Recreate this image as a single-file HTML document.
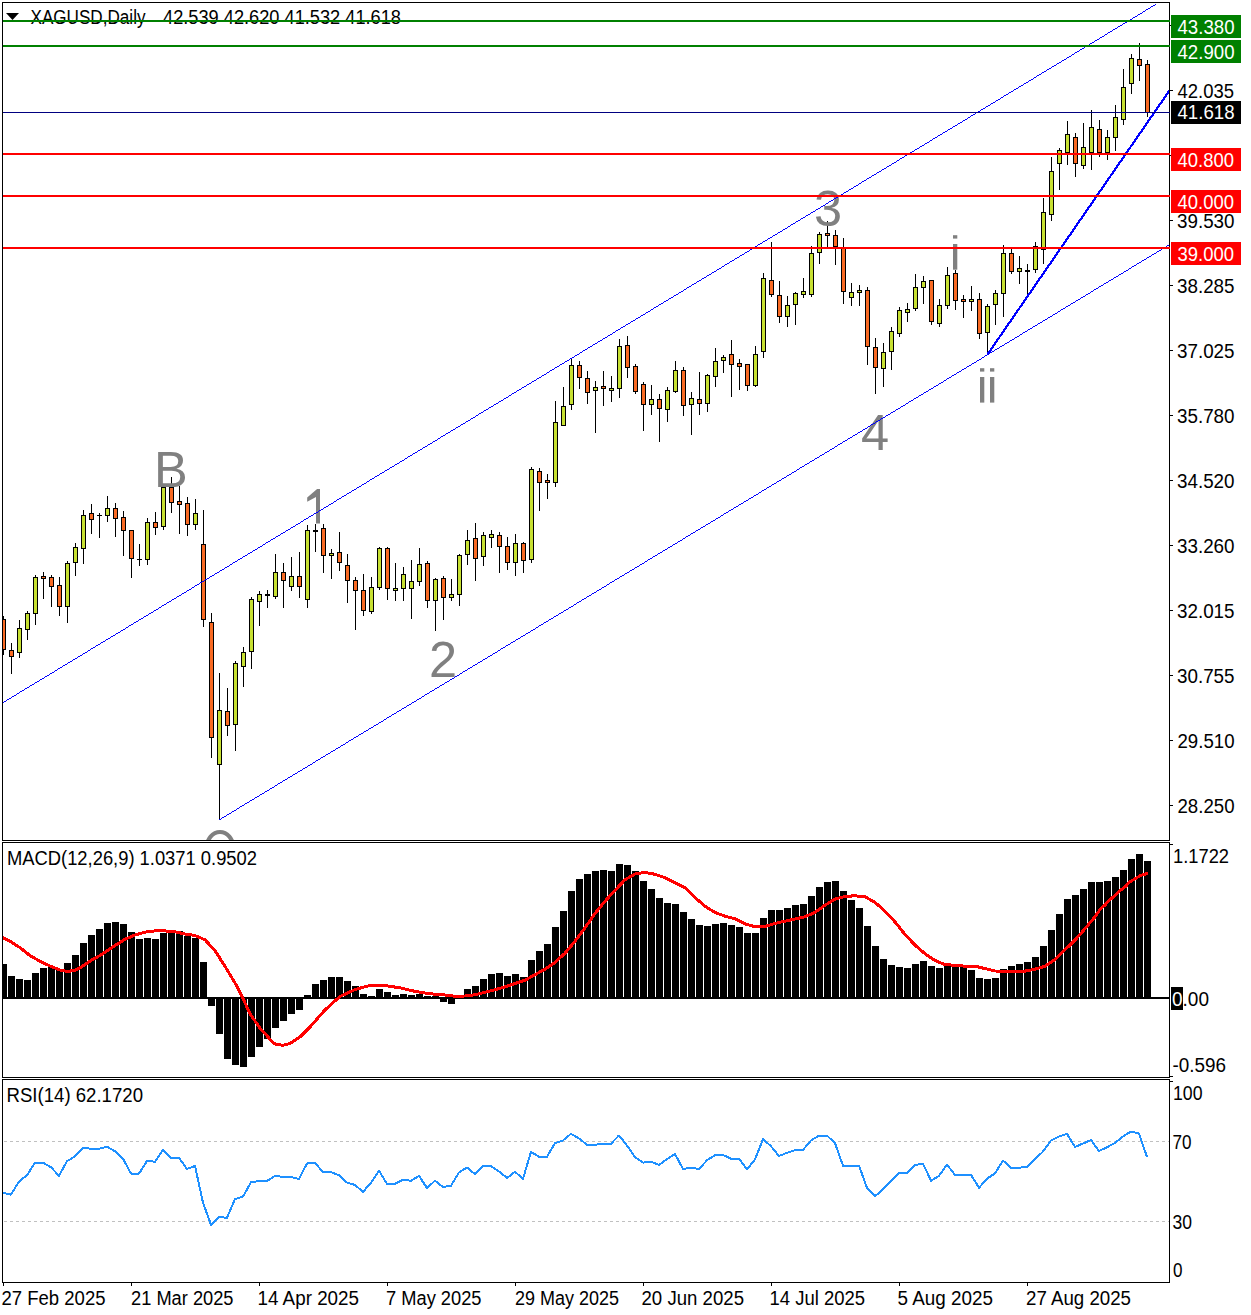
<!DOCTYPE html>
<html><head><meta charset="utf-8"><title>XAGUSD Daily</title>
<style>
html,body{margin:0;padding:0;background:#fff;}
body{width:1251px;height:1315px;overflow:hidden;}
svg{display:block;}
text{font-family:'Liberation Sans', sans-serif;}
</style></head><body>
<svg width="1251" height="1315" viewBox="0 0 1251 1315">
<defs>
<clipPath id="cm"><rect x="3" y="3" width="1166" height="837"/></clipPath>
<clipPath id="cd"><rect x="3" y="843" width="1166" height="234"/></clipPath>
<clipPath id="cr"><rect x="3" y="1080" width="1166" height="202"/></clipPath>
</defs>
<rect x="0" y="0" width="1251" height="1315" fill="#fff"/>

<g clip-path="url(#cm)">
<g fill="#000" shape-rendering="crispEdges"><rect x="3" y="616" width="1" height="39"/><rect x="1" y="619" width="5" height="31"/><rect x="2" y="620" width="3" height="29" fill="#F96A23"/><rect x="11" y="643" width="1" height="31"/><rect x="9" y="650" width="5" height="7"/><rect x="10" y="651" width="3" height="5" fill="#F96A23"/><rect x="19" y="620" width="1" height="38"/><rect x="17" y="628" width="5" height="25"/><rect x="18" y="629" width="3" height="23" fill="#C7E032"/><rect x="27" y="611" width="1" height="29"/><rect x="25" y="613" width="5" height="17"/><rect x="26" y="614" width="3" height="15" fill="#C7E032"/><rect x="35" y="575" width="1" height="50"/><rect x="33" y="577" width="5" height="37"/><rect x="34" y="578" width="3" height="35" fill="#C7E032"/><rect x="43" y="572" width="1" height="27"/><rect x="41" y="576" width="5" height="3"/><rect x="42" y="577" width="3" height="1" fill="#F96A23"/><rect x="51" y="575" width="1" height="32"/><rect x="49" y="577" width="5" height="10"/><rect x="50" y="578" width="3" height="8" fill="#F96A23"/><rect x="59" y="577" width="1" height="39"/><rect x="57" y="585" width="5" height="22"/><rect x="58" y="586" width="3" height="20" fill="#F96A23"/><rect x="67" y="561" width="1" height="62"/><rect x="65" y="563" width="5" height="44"/><rect x="66" y="564" width="3" height="42" fill="#C7E032"/><rect x="75" y="543" width="1" height="33"/><rect x="73" y="547" width="5" height="16"/><rect x="74" y="548" width="3" height="14" fill="#C7E032"/><rect x="83" y="510" width="1" height="54"/><rect x="81" y="515" width="5" height="34"/><rect x="82" y="516" width="3" height="32" fill="#C7E032"/><rect x="91" y="504" width="1" height="30"/><rect x="89" y="513" width="5" height="7"/><rect x="90" y="514" width="3" height="5" fill="#F96A23"/><rect x="99" y="513" width="1" height="25"/><rect x="97" y="515" width="5" height="1"/><rect x="107" y="496" width="1" height="26"/><rect x="105" y="508" width="5" height="8"/><rect x="106" y="509" width="3" height="6" fill="#C7E032"/><rect x="115" y="503" width="1" height="34"/><rect x="113" y="508" width="5" height="11"/><rect x="114" y="509" width="3" height="9" fill="#F96A23"/><rect x="123" y="511" width="1" height="45"/><rect x="121" y="517" width="5" height="14"/><rect x="122" y="518" width="3" height="12" fill="#F96A23"/><rect x="131" y="530" width="1" height="48"/><rect x="129" y="530" width="5" height="29"/><rect x="130" y="531" width="3" height="27" fill="#F96A23"/><rect x="139" y="544" width="1" height="22"/><rect x="137" y="559" width="5" height="1"/><rect x="147" y="518" width="1" height="47"/><rect x="145" y="522" width="5" height="38"/><rect x="146" y="523" width="3" height="36" fill="#C7E032"/><rect x="155" y="512" width="1" height="23"/><rect x="153" y="522" width="5" height="6"/><rect x="154" y="523" width="3" height="4" fill="#F96A23"/><rect x="163" y="485" width="1" height="45"/><rect x="161" y="487" width="5" height="40"/><rect x="162" y="488" width="3" height="38" fill="#C7E032"/><rect x="171" y="477" width="1" height="36"/><rect x="169" y="487" width="5" height="16"/><rect x="170" y="488" width="3" height="14" fill="#F96A23"/><rect x="179" y="486" width="1" height="48"/><rect x="177" y="501" width="5" height="4"/><rect x="178" y="502" width="3" height="2" fill="#F96A23"/><rect x="187" y="497" width="1" height="39"/><rect x="185" y="503" width="5" height="22"/><rect x="186" y="504" width="3" height="20" fill="#F96A23"/><rect x="195" y="499" width="1" height="31"/><rect x="193" y="513" width="5" height="12"/><rect x="194" y="514" width="3" height="10" fill="#C7E032"/><rect x="203" y="510" width="1" height="117"/><rect x="201" y="544" width="5" height="76"/><rect x="202" y="545" width="3" height="74" fill="#F96A23"/><rect x="211" y="613" width="1" height="145"/><rect x="209" y="622" width="5" height="116"/><rect x="210" y="623" width="3" height="114" fill="#F96A23"/><rect x="219" y="673" width="1" height="147"/><rect x="217" y="710" width="5" height="55"/><rect x="218" y="711" width="3" height="53" fill="#C7E032"/><rect x="227" y="688" width="1" height="48"/><rect x="225" y="711" width="5" height="15"/><rect x="226" y="712" width="3" height="13" fill="#F96A23"/><rect x="235" y="661" width="1" height="90"/><rect x="233" y="663" width="5" height="62"/><rect x="234" y="664" width="3" height="60" fill="#C7E032"/><rect x="243" y="647" width="1" height="40"/><rect x="241" y="652" width="5" height="15"/><rect x="242" y="653" width="3" height="13" fill="#C7E032"/><rect x="251" y="597" width="1" height="72"/><rect x="249" y="599" width="5" height="53"/><rect x="250" y="600" width="3" height="51" fill="#C7E032"/><rect x="259" y="591" width="1" height="35"/><rect x="257" y="594" width="5" height="8"/><rect x="258" y="595" width="3" height="6" fill="#C7E032"/><rect x="267" y="590" width="1" height="18"/><rect x="265" y="594" width="5" height="2"/><rect x="275" y="554" width="1" height="45"/><rect x="273" y="572" width="5" height="25"/><rect x="274" y="573" width="3" height="23" fill="#C7E032"/><rect x="283" y="563" width="1" height="45"/><rect x="281" y="572" width="5" height="9"/><rect x="282" y="573" width="3" height="7" fill="#F96A23"/><rect x="291" y="557" width="1" height="34"/><rect x="289" y="576" width="5" height="11"/><rect x="290" y="577" width="3" height="9" fill="#C7E032"/><rect x="299" y="552" width="1" height="46"/><rect x="297" y="576" width="5" height="11"/><rect x="298" y="577" width="3" height="9" fill="#F96A23"/><rect x="307" y="525" width="1" height="83"/><rect x="305" y="530" width="5" height="70"/><rect x="306" y="531" width="3" height="68" fill="#C7E032"/><rect x="315" y="524" width="1" height="28"/><rect x="313" y="530" width="5" height="2"/><rect x="323" y="524" width="1" height="49"/><rect x="321" y="528" width="5" height="28"/><rect x="322" y="529" width="3" height="26" fill="#F96A23"/><rect x="331" y="549" width="1" height="30"/><rect x="329" y="553" width="5" height="3"/><rect x="330" y="554" width="3" height="1" fill="#C7E032"/><rect x="339" y="532" width="1" height="39"/><rect x="337" y="552" width="5" height="11"/><rect x="338" y="553" width="3" height="9" fill="#F96A23"/><rect x="347" y="554" width="1" height="49"/><rect x="345" y="565" width="5" height="16"/><rect x="346" y="566" width="3" height="14" fill="#F96A23"/><rect x="355" y="577" width="1" height="53"/><rect x="353" y="580" width="5" height="11"/><rect x="354" y="581" width="3" height="9" fill="#F96A23"/><rect x="363" y="574" width="1" height="42"/><rect x="361" y="590" width="5" height="21"/><rect x="362" y="591" width="3" height="19" fill="#F96A23"/><rect x="371" y="577" width="1" height="37"/><rect x="369" y="587" width="5" height="25"/><rect x="370" y="588" width="3" height="23" fill="#C7E032"/><rect x="379" y="547" width="1" height="43"/><rect x="377" y="548" width="5" height="40"/><rect x="378" y="549" width="3" height="38" fill="#C7E032"/><rect x="387" y="547" width="1" height="53"/><rect x="385" y="548" width="5" height="41"/><rect x="386" y="549" width="3" height="39" fill="#F96A23"/><rect x="395" y="563" width="1" height="38"/><rect x="393" y="588" width="5" height="3"/><rect x="394" y="589" width="3" height="1" fill="#C7E032"/><rect x="403" y="567" width="1" height="34"/><rect x="401" y="574" width="5" height="15"/><rect x="402" y="575" width="3" height="13" fill="#C7E032"/><rect x="411" y="560" width="1" height="59"/><rect x="409" y="581" width="5" height="8"/><rect x="410" y="582" width="3" height="6" fill="#C7E032"/><rect x="419" y="548" width="1" height="38"/><rect x="417" y="564" width="5" height="18"/><rect x="418" y="565" width="3" height="16" fill="#C7E032"/><rect x="427" y="561" width="1" height="47"/><rect x="425" y="563" width="5" height="38"/><rect x="426" y="564" width="3" height="36" fill="#F96A23"/><rect x="435" y="578" width="1" height="53"/><rect x="433" y="579" width="5" height="22"/><rect x="434" y="580" width="3" height="20" fill="#C7E032"/><rect x="443" y="576" width="1" height="44"/><rect x="441" y="578" width="5" height="20"/><rect x="442" y="579" width="3" height="18" fill="#F96A23"/><rect x="451" y="579" width="1" height="22"/><rect x="449" y="594" width="5" height="4"/><rect x="450" y="595" width="3" height="2" fill="#C7E032"/><rect x="459" y="554" width="1" height="52"/><rect x="457" y="555" width="5" height="40"/><rect x="458" y="556" width="3" height="38" fill="#C7E032"/><rect x="467" y="530" width="1" height="35"/><rect x="465" y="540" width="5" height="15"/><rect x="466" y="541" width="3" height="13" fill="#C7E032"/><rect x="475" y="523" width="1" height="58"/><rect x="473" y="538" width="5" height="21"/><rect x="474" y="539" width="3" height="19" fill="#F96A23"/><rect x="483" y="532" width="1" height="34"/><rect x="481" y="535" width="5" height="22"/><rect x="482" y="536" width="3" height="20" fill="#C7E032"/><rect x="491" y="530" width="1" height="18"/><rect x="489" y="534" width="5" height="4"/><rect x="490" y="535" width="3" height="2" fill="#C7E032"/><rect x="499" y="532" width="1" height="41"/><rect x="497" y="535" width="5" height="12"/><rect x="498" y="536" width="3" height="10" fill="#F96A23"/><rect x="507" y="537" width="1" height="33"/><rect x="505" y="546" width="5" height="17"/><rect x="506" y="547" width="3" height="15" fill="#F96A23"/><rect x="515" y="534" width="1" height="42"/><rect x="513" y="543" width="5" height="20"/><rect x="514" y="544" width="3" height="18" fill="#C7E032"/><rect x="523" y="542" width="1" height="31"/><rect x="521" y="543" width="5" height="18"/><rect x="522" y="544" width="3" height="16" fill="#F96A23"/><rect x="531" y="467" width="1" height="96"/><rect x="529" y="469" width="5" height="91"/><rect x="530" y="470" width="3" height="89" fill="#C7E032"/><rect x="539" y="468" width="1" height="43"/><rect x="537" y="471" width="5" height="12"/><rect x="538" y="472" width="3" height="10" fill="#F96A23"/><rect x="547" y="474" width="1" height="25"/><rect x="545" y="480" width="5" height="3"/><rect x="546" y="481" width="3" height="1" fill="#F96A23"/><rect x="555" y="401" width="1" height="86"/><rect x="553" y="422" width="5" height="61"/><rect x="554" y="423" width="3" height="59" fill="#C7E032"/><rect x="563" y="387" width="1" height="39"/><rect x="561" y="406" width="5" height="20"/><rect x="562" y="407" width="3" height="18" fill="#C7E032"/><rect x="571" y="359" width="1" height="51"/><rect x="569" y="365" width="5" height="40"/><rect x="570" y="366" width="3" height="38" fill="#C7E032"/><rect x="579" y="361" width="1" height="28"/><rect x="577" y="365" width="5" height="13"/><rect x="578" y="366" width="3" height="11" fill="#F96A23"/><rect x="587" y="371" width="1" height="33"/><rect x="585" y="378" width="5" height="15"/><rect x="586" y="379" width="3" height="13" fill="#F96A23"/><rect x="595" y="381" width="1" height="52"/><rect x="593" y="387" width="5" height="4"/><rect x="594" y="388" width="3" height="2" fill="#C7E032"/><rect x="603" y="371" width="1" height="35"/><rect x="601" y="386" width="5" height="3"/><rect x="602" y="387" width="3" height="1" fill="#F96A23"/><rect x="611" y="376" width="1" height="26"/><rect x="609" y="388" width="5" height="3"/><rect x="610" y="389" width="3" height="1" fill="#C7E032"/><rect x="619" y="339" width="1" height="59"/><rect x="617" y="346" width="5" height="43"/><rect x="618" y="347" width="3" height="41" fill="#C7E032"/><rect x="627" y="336" width="1" height="42"/><rect x="625" y="345" width="5" height="23"/><rect x="626" y="346" width="3" height="21" fill="#F96A23"/><rect x="635" y="364" width="1" height="30"/><rect x="633" y="366" width="5" height="26"/><rect x="634" y="367" width="3" height="24" fill="#F96A23"/><rect x="643" y="382" width="1" height="49"/><rect x="641" y="384" width="5" height="21"/><rect x="642" y="385" width="3" height="19" fill="#F96A23"/><rect x="651" y="385" width="1" height="30"/><rect x="649" y="399" width="5" height="6"/><rect x="650" y="400" width="3" height="4" fill="#C7E032"/><rect x="659" y="394" width="1" height="48"/><rect x="657" y="399" width="5" height="10"/><rect x="658" y="400" width="3" height="8" fill="#F96A23"/><rect x="667" y="387" width="1" height="35"/><rect x="665" y="390" width="5" height="20"/><rect x="666" y="391" width="3" height="18" fill="#C7E032"/><rect x="675" y="361" width="1" height="32"/><rect x="673" y="370" width="5" height="22"/><rect x="674" y="371" width="3" height="20" fill="#C7E032"/><rect x="683" y="367" width="1" height="49"/><rect x="681" y="370" width="5" height="36"/><rect x="682" y="371" width="3" height="34" fill="#F96A23"/><rect x="691" y="392" width="1" height="43"/><rect x="689" y="398" width="5" height="7"/><rect x="690" y="399" width="3" height="5" fill="#C7E032"/><rect x="699" y="372" width="1" height="43"/><rect x="697" y="399" width="5" height="5"/><rect x="698" y="400" width="3" height="3" fill="#F96A23"/><rect x="707" y="374" width="1" height="38"/><rect x="705" y="375" width="5" height="29"/><rect x="706" y="376" width="3" height="27" fill="#C7E032"/><rect x="715" y="348" width="1" height="39"/><rect x="713" y="361" width="5" height="16"/><rect x="714" y="362" width="3" height="14" fill="#C7E032"/><rect x="723" y="355" width="1" height="18"/><rect x="721" y="357" width="5" height="4"/><rect x="722" y="358" width="3" height="2" fill="#C7E032"/><rect x="731" y="340" width="1" height="57"/><rect x="729" y="354" width="5" height="11"/><rect x="730" y="355" width="3" height="9" fill="#F96A23"/><rect x="739" y="359" width="1" height="31"/><rect x="737" y="363" width="5" height="4"/><rect x="738" y="364" width="3" height="2" fill="#F96A23"/><rect x="747" y="365" width="1" height="26"/><rect x="745" y="364" width="5" height="22"/><rect x="746" y="365" width="3" height="20" fill="#F96A23"/><rect x="755" y="346" width="1" height="41"/><rect x="753" y="354" width="5" height="32"/><rect x="754" y="355" width="3" height="30" fill="#C7E032"/><rect x="763" y="273" width="1" height="85"/><rect x="761" y="278" width="5" height="74"/><rect x="762" y="279" width="3" height="72" fill="#C7E032"/><rect x="771" y="242" width="1" height="55"/><rect x="769" y="280" width="5" height="15"/><rect x="770" y="281" width="3" height="13" fill="#F96A23"/><rect x="779" y="281" width="1" height="42"/><rect x="777" y="295" width="5" height="22"/><rect x="778" y="296" width="3" height="20" fill="#F96A23"/><rect x="787" y="296" width="1" height="31"/><rect x="785" y="305" width="5" height="12"/><rect x="786" y="306" width="3" height="10" fill="#C7E032"/><rect x="795" y="292" width="1" height="33"/><rect x="793" y="293" width="5" height="12"/><rect x="794" y="294" width="3" height="10" fill="#C7E032"/><rect x="803" y="278" width="1" height="20"/><rect x="801" y="291" width="5" height="4"/><rect x="802" y="292" width="3" height="2" fill="#C7E032"/><rect x="811" y="246" width="1" height="51"/><rect x="809" y="253" width="5" height="42"/><rect x="810" y="254" width="3" height="40" fill="#C7E032"/><rect x="819" y="232" width="1" height="32"/><rect x="817" y="234" width="5" height="19"/><rect x="818" y="235" width="3" height="17" fill="#C7E032"/><rect x="827" y="221" width="1" height="26"/><rect x="825" y="233" width="5" height="3"/><rect x="826" y="234" width="3" height="1" fill="#F96A23"/><rect x="835" y="230" width="1" height="35"/><rect x="833" y="235" width="5" height="12"/><rect x="834" y="236" width="3" height="10" fill="#F96A23"/><rect x="843" y="238" width="1" height="66"/><rect x="841" y="247" width="5" height="45"/><rect x="842" y="248" width="3" height="43" fill="#F96A23"/><rect x="851" y="283" width="1" height="23"/><rect x="849" y="292" width="5" height="6"/><rect x="850" y="293" width="3" height="4" fill="#C7E032"/><rect x="859" y="285" width="1" height="21"/><rect x="857" y="290" width="5" height="3"/><rect x="858" y="291" width="3" height="1" fill="#C7E032"/><rect x="867" y="287" width="1" height="78"/><rect x="865" y="290" width="5" height="57"/><rect x="866" y="291" width="3" height="55" fill="#F96A23"/><rect x="875" y="338" width="1" height="56"/><rect x="873" y="347" width="5" height="21"/><rect x="874" y="348" width="3" height="19" fill="#F96A23"/><rect x="883" y="343" width="1" height="44"/><rect x="881" y="352" width="5" height="17"/><rect x="882" y="353" width="3" height="15" fill="#C7E032"/><rect x="891" y="327" width="1" height="43"/><rect x="889" y="331" width="5" height="21"/><rect x="890" y="332" width="3" height="19" fill="#C7E032"/><rect x="899" y="307" width="1" height="30"/><rect x="897" y="310" width="5" height="24"/><rect x="898" y="311" width="3" height="22" fill="#C7E032"/><rect x="907" y="303" width="1" height="19"/><rect x="905" y="309" width="5" height="4"/><rect x="906" y="310" width="3" height="2" fill="#C7E032"/><rect x="915" y="274" width="1" height="37"/><rect x="913" y="287" width="5" height="22"/><rect x="914" y="288" width="3" height="20" fill="#C7E032"/><rect x="923" y="276" width="1" height="28"/><rect x="921" y="281" width="5" height="7"/><rect x="922" y="282" width="3" height="5" fill="#C7E032"/><rect x="931" y="280" width="1" height="45"/><rect x="929" y="280" width="5" height="42"/><rect x="930" y="281" width="3" height="40" fill="#F96A23"/><rect x="939" y="299" width="1" height="28"/><rect x="937" y="305" width="5" height="19"/><rect x="938" y="306" width="3" height="17" fill="#C7E032"/><rect x="947" y="267" width="1" height="42"/><rect x="945" y="275" width="5" height="31"/><rect x="946" y="276" width="3" height="29" fill="#C7E032"/><rect x="955" y="270" width="1" height="40"/><rect x="953" y="273" width="5" height="28"/><rect x="954" y="274" width="3" height="26" fill="#F96A23"/><rect x="963" y="295" width="1" height="23"/><rect x="961" y="299" width="5" height="3"/><rect x="962" y="300" width="3" height="1" fill="#F96A23"/><rect x="971" y="286" width="1" height="25"/><rect x="969" y="299" width="5" height="3"/><rect x="970" y="300" width="3" height="1" fill="#C7E032"/><rect x="979" y="293" width="1" height="46"/><rect x="977" y="299" width="5" height="35"/><rect x="978" y="300" width="3" height="33" fill="#F96A23"/><rect x="987" y="304" width="1" height="50"/><rect x="985" y="306" width="5" height="27"/><rect x="986" y="307" width="3" height="25" fill="#C7E032"/><rect x="995" y="290" width="1" height="35"/><rect x="993" y="293" width="5" height="12"/><rect x="994" y="294" width="3" height="10" fill="#C7E032"/><rect x="1003" y="245" width="1" height="72"/><rect x="1001" y="253" width="5" height="41"/><rect x="1002" y="254" width="3" height="39" fill="#C7E032"/><rect x="1011" y="249" width="1" height="25"/><rect x="1009" y="253" width="5" height="19"/><rect x="1010" y="254" width="3" height="17" fill="#F96A23"/><rect x="1019" y="256" width="1" height="28"/><rect x="1017" y="268" width="5" height="4"/><rect x="1018" y="269" width="3" height="2" fill="#C7E032"/><rect x="1027" y="264" width="1" height="31"/><rect x="1025" y="270" width="5" height="2"/><rect x="1035" y="242" width="1" height="31"/><rect x="1033" y="246" width="5" height="24"/><rect x="1034" y="247" width="3" height="22" fill="#C7E032"/><rect x="1043" y="198" width="1" height="66"/><rect x="1041" y="212" width="5" height="38"/><rect x="1042" y="213" width="3" height="36" fill="#C7E032"/><rect x="1051" y="157" width="1" height="64"/><rect x="1049" y="171" width="5" height="44"/><rect x="1050" y="172" width="3" height="42" fill="#C7E032"/><rect x="1059" y="148" width="1" height="42"/><rect x="1057" y="150" width="5" height="14"/><rect x="1058" y="151" width="3" height="12" fill="#C7E032"/><rect x="1067" y="121" width="1" height="44"/><rect x="1065" y="134" width="5" height="19"/><rect x="1066" y="135" width="3" height="17" fill="#C7E032"/><rect x="1075" y="133" width="1" height="44"/><rect x="1073" y="137" width="5" height="27"/><rect x="1074" y="138" width="3" height="25" fill="#F96A23"/><rect x="1083" y="123" width="1" height="46"/><rect x="1081" y="147" width="5" height="19"/><rect x="1082" y="148" width="3" height="17" fill="#C7E032"/><rect x="1091" y="110" width="1" height="60"/><rect x="1089" y="127" width="5" height="26"/><rect x="1090" y="128" width="3" height="24" fill="#C7E032"/><rect x="1099" y="120" width="1" height="37"/><rect x="1097" y="129" width="5" height="24"/><rect x="1098" y="130" width="3" height="22" fill="#F96A23"/><rect x="1107" y="130" width="1" height="30"/><rect x="1105" y="137" width="5" height="16"/><rect x="1106" y="138" width="3" height="14" fill="#C7E032"/><rect x="1115" y="105" width="1" height="46"/><rect x="1113" y="117" width="5" height="21"/><rect x="1114" y="118" width="3" height="19" fill="#C7E032"/><rect x="1123" y="69" width="1" height="56"/><rect x="1121" y="87" width="5" height="33"/><rect x="1122" y="88" width="3" height="31" fill="#C7E032"/><rect x="1131" y="54" width="1" height="40"/><rect x="1129" y="58" width="5" height="26"/><rect x="1130" y="59" width="3" height="24" fill="#C7E032"/><rect x="1139" y="43" width="1" height="38"/><rect x="1137" y="59" width="5" height="7"/><rect x="1138" y="60" width="3" height="5" fill="#F96A23"/><rect x="1147" y="60" width="1" height="57"/><rect x="1145" y="64" width="5" height="49"/><rect x="1146" y="65" width="3" height="47" fill="#F96A23"/></g>
<g fill="#808080">
<text x="154" y="486.5" font-size="50.5" fill="#808080">B</text>
<text x="429" y="677" font-size="50.5" fill="#808080">2</text>
<text x="814" y="225.5" font-size="50.5" fill="#808080">3</text>
<text x="861" y="450.2" font-size="50.5" fill="#808080">4</text>
<path d="M317.1,489 L320,489 L320,523.6 L316,523.6 L316,496.9 L307.2,501.7 L307.2,497.4 Z"/>
<rect x="953.0" y="235.2" width="4.3" height="3.4"/><rect x="953.0" y="244.0" width="4.3" height="25.7"/>
<rect x="980.0" y="368.2" width="4.3" height="3.4"/><rect x="980.0" y="377.0" width="4.3" height="25.6"/>
<rect x="990.0" y="368.2" width="4.3" height="3.4"/><rect x="990.0" y="377.0" width="4.3" height="25.6"/>
<path fill-rule="evenodd" d="M204.5,848 a15.5,18 0 1,0 31,0 a15.5,18 0 1,0 -31,0 Z M208.9,848 a11.1,14 0 1,0 22.2,0 a11.1,14 0 1,0 -22.2,0 Z"/>
</g>
<polygon points="6,13 19,13 12.5,20" fill="#000"/>
<text x="30.50" y="24.00" font-size="20" fill="#000" textLength="115.00" lengthAdjust="spacingAndGlyphs">XAGUSD,Daily</text>
<text x="163.00" y="24.00" font-size="20" fill="#000" textLength="238.00" lengthAdjust="spacingAndGlyphs">42.539 42.620 41.532 41.618</text>
<g stroke="#0000FF" fill="none">
</g>
<path fill="#0000FF" shape-rendering="crispEdges" d="M3 702h1v1h-1zM4 701h2v1h-2zM6 700h1v1h-1zM7 699h2v1h-2zM9 698h2v1h-2zM11 697h1v1h-1zM12 696h2v1h-2zM14 695h2v1h-2zM16 694h1v1h-1zM17 693h2v1h-2zM19 692h1v1h-1zM20 691h2v1h-2zM22 690h2v1h-2zM24 689h1v1h-1zM25 688h2v1h-2zM27 687h2v1h-2zM29 686h1v1h-1zM30 685h2v1h-2zM32 684h2v1h-2zM34 683h1v1h-1zM35 682h2v1h-2zM37 681h2v1h-2zM39 680h1v1h-1zM40 679h2v1h-2zM42 678h2v1h-2zM44 677h1v1h-1zM45 676h2v1h-2zM47 675h2v1h-2zM49 674h1v1h-1zM50 673h2v1h-2zM52 672h2v1h-2zM54 671h1v1h-1zM55 670h2v1h-2zM57 669h1v1h-1zM58 668h2v1h-2zM60 667h2v1h-2zM62 666h1v1h-1zM63 665h2v1h-2zM65 664h2v1h-2zM67 663h1v1h-1zM68 662h2v1h-2zM70 661h2v1h-2zM72 660h1v1h-1zM73 659h2v1h-2zM75 658h2v1h-2zM77 657h1v1h-1zM78 656h2v1h-2zM80 655h2v1h-2zM82 654h1v1h-1zM83 653h2v1h-2zM85 652h2v1h-2zM87 651h1v1h-1zM88 650h2v1h-2zM90 649h1v1h-1zM91 648h2v1h-2zM93 647h2v1h-2zM95 646h1v1h-1zM96 645h2v1h-2zM98 644h2v1h-2zM100 643h1v1h-1zM101 642h2v1h-2zM103 641h2v1h-2zM105 640h1v1h-1zM106 639h2v1h-2zM108 638h2v1h-2zM110 637h1v1h-1zM111 636h2v1h-2zM113 635h2v1h-2zM115 634h1v1h-1zM116 633h2v1h-2zM118 632h2v1h-2zM120 631h1v1h-1zM121 630h2v1h-2zM123 629h2v1h-2zM125 628h1v1h-1zM126 627h2v1h-2zM128 626h1v1h-1zM129 625h2v1h-2zM131 624h2v1h-2zM133 623h1v1h-1zM134 622h2v1h-2zM136 621h2v1h-2zM138 620h1v1h-1zM139 619h2v1h-2zM141 618h2v1h-2zM143 617h1v1h-1zM144 616h2v1h-2zM146 615h2v1h-2zM148 614h1v1h-1zM149 613h2v1h-2zM151 612h2v1h-2zM153 611h1v1h-1zM154 610h2v1h-2zM156 609h2v1h-2zM158 608h1v1h-1zM159 607h2v1h-2zM161 606h1v1h-1zM162 605h2v1h-2zM164 604h2v1h-2zM166 603h1v1h-1zM167 602h2v1h-2zM169 601h2v1h-2zM171 600h1v1h-1zM172 599h2v1h-2zM174 598h2v1h-2zM176 597h1v1h-1zM177 596h2v1h-2zM179 595h2v1h-2zM181 594h1v1h-1zM182 593h2v1h-2zM184 592h2v1h-2zM186 591h1v1h-1zM187 590h2v1h-2zM189 589h2v1h-2zM191 588h1v1h-1zM192 587h2v1h-2zM194 586h1v1h-1zM195 585h2v1h-2zM197 584h2v1h-2zM199 583h1v1h-1zM200 582h2v1h-2zM202 581h2v1h-2zM204 580h1v1h-1zM205 579h2v1h-2zM207 578h2v1h-2zM209 577h1v1h-1zM210 576h2v1h-2zM212 575h2v1h-2zM214 574h1v1h-1zM215 573h2v1h-2zM217 572h2v1h-2zM219 571h1v1h-1zM220 570h2v1h-2zM222 569h2v1h-2zM224 568h1v1h-1zM225 567h2v1h-2zM227 566h2v1h-2zM229 565h1v1h-1zM230 564h2v1h-2zM232 563h1v1h-1zM233 562h2v1h-2zM235 561h2v1h-2zM237 560h1v1h-1zM238 559h2v1h-2zM240 558h2v1h-2zM242 557h1v1h-1zM243 556h2v1h-2zM245 555h2v1h-2zM247 554h1v1h-1zM248 553h2v1h-2zM250 552h2v1h-2zM252 551h1v1h-1zM253 550h2v1h-2zM255 549h2v1h-2zM257 548h1v1h-1zM258 547h2v1h-2zM260 546h2v1h-2zM262 545h1v1h-1zM263 544h2v1h-2zM265 543h1v1h-1zM266 542h2v1h-2zM268 541h2v1h-2zM270 540h1v1h-1zM271 539h2v1h-2zM273 538h2v1h-2zM275 537h1v1h-1zM276 536h2v1h-2zM278 535h2v1h-2zM280 534h1v1h-1zM281 533h2v1h-2zM283 532h2v1h-2zM285 531h1v1h-1zM286 530h2v1h-2zM288 529h2v1h-2zM290 528h1v1h-1zM291 527h2v1h-2zM293 526h2v1h-2zM295 525h1v1h-1zM296 524h2v1h-2zM298 523h2v1h-2zM300 522h1v1h-1zM301 521h2v1h-2zM303 520h1v1h-1zM304 519h2v1h-2zM306 518h2v1h-2zM308 517h1v1h-1zM309 516h2v1h-2zM311 515h2v1h-2zM313 514h1v1h-1zM314 513h2v1h-2zM316 512h2v1h-2zM318 511h1v1h-1zM319 510h2v1h-2zM321 509h2v1h-2zM323 508h1v1h-1zM324 507h2v1h-2zM326 506h2v1h-2zM328 505h1v1h-1zM329 504h2v1h-2zM331 503h2v1h-2zM333 502h1v1h-1zM334 501h2v1h-2zM336 500h1v1h-1zM337 499h2v1h-2zM339 498h2v1h-2zM341 497h1v1h-1zM342 496h2v1h-2zM344 495h2v1h-2zM346 494h1v1h-1zM347 493h2v1h-2zM349 492h2v1h-2zM351 491h1v1h-1zM352 490h2v1h-2zM354 489h2v1h-2zM356 488h1v1h-1zM357 487h2v1h-2zM359 486h2v1h-2zM361 485h1v1h-1zM362 484h2v1h-2zM364 483h2v1h-2zM366 482h1v1h-1zM367 481h2v1h-2zM369 480h1v1h-1zM370 479h2v1h-2zM372 478h2v1h-2zM374 477h1v1h-1zM375 476h2v1h-2zM377 475h2v1h-2zM379 474h1v1h-1zM380 473h2v1h-2zM382 472h2v1h-2zM384 471h1v1h-1zM385 470h2v1h-2zM387 469h2v1h-2zM389 468h1v1h-1zM390 467h2v1h-2zM392 466h2v1h-2zM394 465h1v1h-1zM395 464h2v1h-2zM397 463h2v1h-2zM399 462h1v1h-1zM400 461h2v1h-2zM402 460h2v1h-2zM404 459h1v1h-1zM405 458h2v1h-2zM407 457h1v1h-1zM408 456h2v1h-2zM410 455h2v1h-2zM412 454h1v1h-1zM413 453h2v1h-2zM415 452h2v1h-2zM417 451h1v1h-1zM418 450h2v1h-2zM420 449h2v1h-2zM422 448h1v1h-1zM423 447h2v1h-2zM425 446h2v1h-2zM427 445h1v1h-1zM428 444h2v1h-2zM430 443h2v1h-2zM432 442h1v1h-1zM433 441h2v1h-2zM435 440h2v1h-2zM437 439h1v1h-1zM438 438h2v1h-2zM440 437h1v1h-1zM441 436h2v1h-2zM443 435h2v1h-2zM445 434h1v1h-1zM446 433h2v1h-2zM448 432h2v1h-2zM450 431h1v1h-1zM451 430h2v1h-2zM453 429h2v1h-2zM455 428h1v1h-1zM456 427h2v1h-2zM458 426h2v1h-2zM460 425h1v1h-1zM461 424h2v1h-2zM463 423h2v1h-2zM465 422h1v1h-1zM466 421h2v1h-2zM468 420h2v1h-2zM470 419h1v1h-1zM471 418h2v1h-2zM473 417h2v1h-2zM475 416h1v1h-1zM476 415h2v1h-2zM478 414h1v1h-1zM479 413h2v1h-2zM481 412h2v1h-2zM483 411h1v1h-1zM484 410h2v1h-2zM486 409h2v1h-2zM488 408h1v1h-1zM489 407h2v1h-2zM491 406h2v1h-2zM493 405h1v1h-1zM494 404h2v1h-2zM496 403h2v1h-2zM498 402h1v1h-1zM499 401h2v1h-2zM501 400h2v1h-2zM503 399h1v1h-1zM504 398h2v1h-2zM506 397h2v1h-2zM508 396h1v1h-1zM509 395h2v1h-2zM511 394h1v1h-1zM512 393h2v1h-2zM514 392h2v1h-2zM516 391h1v1h-1zM517 390h2v1h-2zM519 389h2v1h-2zM521 388h1v1h-1zM522 387h2v1h-2zM524 386h2v1h-2zM526 385h1v1h-1zM527 384h2v1h-2zM529 383h2v1h-2zM531 382h1v1h-1zM532 381h2v1h-2zM534 380h2v1h-2zM536 379h1v1h-1zM537 378h2v1h-2zM539 377h2v1h-2zM541 376h1v1h-1zM542 375h2v1h-2zM544 374h2v1h-2zM546 373h1v1h-1zM547 372h2v1h-2zM549 371h1v1h-1zM550 370h2v1h-2zM552 369h2v1h-2zM554 368h1v1h-1zM555 367h2v1h-2zM557 366h2v1h-2zM559 365h1v1h-1zM560 364h2v1h-2zM562 363h2v1h-2zM564 362h1v1h-1zM565 361h2v1h-2zM567 360h2v1h-2zM569 359h1v1h-1zM570 358h2v1h-2zM572 357h2v1h-2zM574 356h1v1h-1zM575 355h2v1h-2zM577 354h2v1h-2zM579 353h1v1h-1zM580 352h2v1h-2zM582 351h1v1h-1zM583 350h2v1h-2zM585 349h2v1h-2zM587 348h1v1h-1zM588 347h2v1h-2zM590 346h2v1h-2zM592 345h1v1h-1zM593 344h2v1h-2zM595 343h2v1h-2zM597 342h1v1h-1zM598 341h2v1h-2zM600 340h2v1h-2zM602 339h1v1h-1zM603 338h2v1h-2zM605 337h2v1h-2zM607 336h1v1h-1zM608 335h2v1h-2zM610 334h2v1h-2zM612 333h1v1h-1zM613 332h2v1h-2zM615 331h1v1h-1zM616 330h2v1h-2zM618 329h2v1h-2zM620 328h1v1h-1zM621 327h2v1h-2zM623 326h2v1h-2zM625 325h1v1h-1zM626 324h2v1h-2zM628 323h2v1h-2zM630 322h1v1h-1zM631 321h2v1h-2zM633 320h2v1h-2zM635 319h1v1h-1zM636 318h2v1h-2zM638 317h2v1h-2zM640 316h1v1h-1zM641 315h2v1h-2zM643 314h2v1h-2zM645 313h1v1h-1zM646 312h2v1h-2zM648 311h2v1h-2zM650 310h1v1h-1zM651 309h2v1h-2zM653 308h1v1h-1zM654 307h2v1h-2zM656 306h2v1h-2zM658 305h1v1h-1zM659 304h2v1h-2zM661 303h2v1h-2zM663 302h1v1h-1zM664 301h2v1h-2zM666 300h2v1h-2zM668 299h1v1h-1zM669 298h2v1h-2zM671 297h2v1h-2zM673 296h1v1h-1zM674 295h2v1h-2zM676 294h2v1h-2zM678 293h1v1h-1zM679 292h2v1h-2zM681 291h2v1h-2zM683 290h1v1h-1zM684 289h2v1h-2zM686 288h1v1h-1zM687 287h2v1h-2zM689 286h2v1h-2zM691 285h1v1h-1zM692 284h2v1h-2zM694 283h2v1h-2zM696 282h1v1h-1zM697 281h2v1h-2zM699 280h2v1h-2zM701 279h1v1h-1zM702 278h2v1h-2zM704 277h2v1h-2zM706 276h1v1h-1zM707 275h2v1h-2zM709 274h2v1h-2zM711 273h1v1h-1zM712 272h2v1h-2zM714 271h2v1h-2zM716 270h1v1h-1zM717 269h2v1h-2zM719 268h2v1h-2zM721 267h1v1h-1zM722 266h2v1h-2zM724 265h1v1h-1zM725 264h2v1h-2zM727 263h2v1h-2zM729 262h1v1h-1zM730 261h2v1h-2zM732 260h2v1h-2zM734 259h1v1h-1zM735 258h2v1h-2zM737 257h2v1h-2zM739 256h1v1h-1zM740 255h2v1h-2zM742 254h2v1h-2zM744 253h1v1h-1zM745 252h2v1h-2zM747 251h2v1h-2zM749 250h1v1h-1zM750 249h2v1h-2zM752 248h2v1h-2zM754 247h1v1h-1zM755 246h2v1h-2zM757 245h1v1h-1zM758 244h2v1h-2zM760 243h2v1h-2zM762 242h1v1h-1zM763 241h2v1h-2zM765 240h2v1h-2zM767 239h1v1h-1zM768 238h2v1h-2zM770 237h2v1h-2zM772 236h1v1h-1zM773 235h2v1h-2zM775 234h2v1h-2zM777 233h1v1h-1zM778 232h2v1h-2zM780 231h2v1h-2zM782 230h1v1h-1zM783 229h2v1h-2zM785 228h2v1h-2zM787 227h1v1h-1zM788 226h2v1h-2zM790 225h1v1h-1zM791 224h2v1h-2zM793 223h2v1h-2zM795 222h1v1h-1zM796 221h2v1h-2zM798 220h2v1h-2zM800 219h1v1h-1zM801 218h2v1h-2zM803 217h2v1h-2zM805 216h1v1h-1zM806 215h2v1h-2zM808 214h2v1h-2zM810 213h1v1h-1zM811 212h2v1h-2zM813 211h2v1h-2zM815 210h1v1h-1zM816 209h2v1h-2zM818 208h2v1h-2zM820 207h1v1h-1zM821 206h2v1h-2zM823 205h2v1h-2zM825 204h1v1h-1zM826 203h2v1h-2zM828 202h1v1h-1zM829 201h2v1h-2zM831 200h2v1h-2zM833 199h1v1h-1zM834 198h2v1h-2zM836 197h2v1h-2zM838 196h1v1h-1zM839 195h2v1h-2zM841 194h2v1h-2zM843 193h1v1h-1zM844 192h2v1h-2zM846 191h2v1h-2zM848 190h1v1h-1zM849 189h2v1h-2zM851 188h2v1h-2zM853 187h1v1h-1zM854 186h2v1h-2zM856 185h2v1h-2zM858 184h1v1h-1zM859 183h2v1h-2zM861 182h1v1h-1zM862 181h2v1h-2zM864 180h2v1h-2zM866 179h1v1h-1zM867 178h2v1h-2zM869 177h2v1h-2zM871 176h1v1h-1zM872 175h2v1h-2zM874 174h2v1h-2zM876 173h1v1h-1zM877 172h2v1h-2zM879 171h2v1h-2zM881 170h1v1h-1zM882 169h2v1h-2zM884 168h2v1h-2zM886 167h1v1h-1zM887 166h2v1h-2zM889 165h2v1h-2zM891 164h1v1h-1zM892 163h2v1h-2zM894 162h2v1h-2zM896 161h1v1h-1zM897 160h2v1h-2zM899 159h1v1h-1zM900 158h2v1h-2zM902 157h2v1h-2zM904 156h1v1h-1zM905 155h2v1h-2zM907 154h2v1h-2zM909 153h1v1h-1zM910 152h2v1h-2zM912 151h2v1h-2zM914 150h1v1h-1zM915 149h2v1h-2zM917 148h2v1h-2zM919 147h1v1h-1zM920 146h2v1h-2zM922 145h2v1h-2zM924 144h1v1h-1zM925 143h2v1h-2zM927 142h2v1h-2zM929 141h1v1h-1zM930 140h2v1h-2zM932 139h1v1h-1zM933 138h2v1h-2zM935 137h2v1h-2zM937 136h1v1h-1zM938 135h2v1h-2zM940 134h2v1h-2zM942 133h1v1h-1zM943 132h2v1h-2zM945 131h2v1h-2zM947 130h1v1h-1zM948 129h2v1h-2zM950 128h2v1h-2zM952 127h1v1h-1zM953 126h2v1h-2zM955 125h2v1h-2zM957 124h1v1h-1zM958 123h2v1h-2zM960 122h2v1h-2zM962 121h1v1h-1zM963 120h2v1h-2zM965 119h2v1h-2zM967 118h1v1h-1zM968 117h2v1h-2zM970 116h1v1h-1zM971 115h2v1h-2zM973 114h2v1h-2zM975 113h1v1h-1zM976 112h2v1h-2zM978 111h2v1h-2zM980 110h1v1h-1zM981 109h2v1h-2zM983 108h2v1h-2zM985 107h1v1h-1zM986 106h2v1h-2zM988 105h2v1h-2zM990 104h1v1h-1zM991 103h2v1h-2zM993 102h2v1h-2zM995 101h1v1h-1zM996 100h2v1h-2zM998 99h2v1h-2zM1000 98h1v1h-1zM1001 97h2v1h-2zM1003 96h1v1h-1zM1004 95h2v1h-2zM1006 94h2v1h-2zM1008 93h1v1h-1zM1009 92h2v1h-2zM1011 91h2v1h-2zM1013 90h1v1h-1zM1014 89h2v1h-2zM1016 88h2v1h-2zM1018 87h1v1h-1zM1019 86h2v1h-2zM1021 85h2v1h-2zM1023 84h1v1h-1zM1024 83h2v1h-2zM1026 82h2v1h-2zM1028 81h1v1h-1zM1029 80h2v1h-2zM1031 79h2v1h-2zM1033 78h1v1h-1zM1034 77h2v1h-2zM1036 76h1v1h-1zM1037 75h2v1h-2zM1039 74h2v1h-2zM1041 73h1v1h-1zM1042 72h2v1h-2zM1044 71h2v1h-2zM1046 70h1v1h-1zM1047 69h2v1h-2zM1049 68h2v1h-2zM1051 67h1v1h-1zM1052 66h2v1h-2zM1054 65h2v1h-2zM1056 64h1v1h-1zM1057 63h2v1h-2zM1059 62h2v1h-2zM1061 61h1v1h-1zM1062 60h2v1h-2zM1064 59h2v1h-2zM1066 58h1v1h-1zM1067 57h2v1h-2zM1069 56h2v1h-2zM1071 55h1v1h-1zM1072 54h2v1h-2zM1074 53h1v1h-1zM1075 52h2v1h-2zM1077 51h2v1h-2zM1079 50h1v1h-1zM1080 49h2v1h-2zM1082 48h2v1h-2zM1084 47h1v1h-1zM1085 46h2v1h-2zM1087 45h2v1h-2zM1089 44h1v1h-1zM1090 43h2v1h-2zM1092 42h2v1h-2zM1094 41h1v1h-1zM1095 40h2v1h-2zM1097 39h2v1h-2zM1099 38h1v1h-1zM1100 37h2v1h-2zM1102 36h2v1h-2zM1104 35h1v1h-1zM1105 34h2v1h-2zM1107 33h1v1h-1zM1108 32h2v1h-2zM1110 31h2v1h-2zM1112 30h1v1h-1zM1113 29h2v1h-2zM1115 28h2v1h-2zM1117 27h1v1h-1zM1118 26h2v1h-2zM1120 25h2v1h-2zM1122 24h1v1h-1zM1123 23h2v1h-2zM1125 22h2v1h-2zM1127 21h1v1h-1zM1128 20h2v1h-2zM1130 19h2v1h-2zM1132 18h1v1h-1zM1133 17h2v1h-2zM1135 16h2v1h-2zM1137 15h1v1h-1zM1138 14h2v1h-2zM1140 13h2v1h-2zM1142 12h1v1h-1zM1143 11h2v1h-2zM1145 10h1v1h-1zM1146 9h2v1h-2zM1148 8h2v1h-2zM1150 7h1v1h-1zM1151 6h2v1h-2zM1153 5h2v1h-2zM1155 4h1v1h-1zM219 819h2v1h-2zM221 818h1v1h-1zM222 817h2v1h-2zM224 816h2v1h-2zM226 815h1v1h-1zM227 814h2v1h-2zM229 813h2v1h-2zM231 812h1v1h-1zM232 811h2v1h-2zM234 810h2v1h-2zM236 809h1v1h-1zM237 808h2v1h-2zM239 807h1v1h-1zM240 806h2v1h-2zM242 805h2v1h-2zM244 804h1v1h-1zM245 803h2v1h-2zM247 802h2v1h-2zM249 801h1v1h-1zM250 800h2v1h-2zM252 799h2v1h-2zM254 798h1v1h-1zM255 797h2v1h-2zM257 796h2v1h-2zM259 795h1v1h-1zM260 794h2v1h-2zM262 793h2v1h-2zM264 792h1v1h-1zM265 791h2v1h-2zM267 790h2v1h-2zM269 789h1v1h-1zM270 788h2v1h-2zM272 787h2v1h-2zM274 786h1v1h-1zM275 785h2v1h-2zM277 784h1v1h-1zM278 783h2v1h-2zM280 782h2v1h-2zM282 781h1v1h-1zM283 780h2v1h-2zM285 779h2v1h-2zM287 778h1v1h-1zM288 777h2v1h-2zM290 776h2v1h-2zM292 775h1v1h-1zM293 774h2v1h-2zM295 773h2v1h-2zM297 772h1v1h-1zM298 771h2v1h-2zM300 770h2v1h-2zM302 769h1v1h-1zM303 768h2v1h-2zM305 767h2v1h-2zM307 766h1v1h-1zM308 765h2v1h-2zM310 764h2v1h-2zM312 763h1v1h-1zM313 762h2v1h-2zM315 761h1v1h-1zM316 760h2v1h-2zM318 759h2v1h-2zM320 758h1v1h-1zM321 757h2v1h-2zM323 756h2v1h-2zM325 755h1v1h-1zM326 754h2v1h-2zM328 753h2v1h-2zM330 752h1v1h-1zM331 751h2v1h-2zM333 750h2v1h-2zM335 749h1v1h-1zM336 748h2v1h-2zM338 747h2v1h-2zM340 746h1v1h-1zM341 745h2v1h-2zM343 744h2v1h-2zM345 743h1v1h-1zM346 742h2v1h-2zM348 741h1v1h-1zM349 740h2v1h-2zM351 739h2v1h-2zM353 738h1v1h-1zM354 737h2v1h-2zM356 736h2v1h-2zM358 735h1v1h-1zM359 734h2v1h-2zM361 733h2v1h-2zM363 732h1v1h-1zM364 731h2v1h-2zM366 730h2v1h-2zM368 729h1v1h-1zM369 728h2v1h-2zM371 727h2v1h-2zM373 726h1v1h-1zM374 725h2v1h-2zM376 724h2v1h-2zM378 723h1v1h-1zM379 722h2v1h-2zM381 721h2v1h-2zM383 720h1v1h-1zM384 719h2v1h-2zM386 718h1v1h-1zM387 717h2v1h-2zM389 716h2v1h-2zM391 715h1v1h-1zM392 714h2v1h-2zM394 713h2v1h-2zM396 712h1v1h-1zM397 711h2v1h-2zM399 710h2v1h-2zM401 709h1v1h-1zM402 708h2v1h-2zM404 707h2v1h-2zM406 706h1v1h-1zM407 705h2v1h-2zM409 704h2v1h-2zM411 703h1v1h-1zM412 702h2v1h-2zM414 701h2v1h-2zM416 700h1v1h-1zM417 699h2v1h-2zM419 698h2v1h-2zM421 697h1v1h-1zM422 696h2v1h-2zM424 695h1v1h-1zM425 694h2v1h-2zM427 693h2v1h-2zM429 692h1v1h-1zM430 691h2v1h-2zM432 690h2v1h-2zM434 689h1v1h-1zM435 688h2v1h-2zM437 687h2v1h-2zM439 686h1v1h-1zM440 685h2v1h-2zM442 684h2v1h-2zM444 683h1v1h-1zM445 682h2v1h-2zM447 681h2v1h-2zM449 680h1v1h-1zM450 679h2v1h-2zM452 678h2v1h-2zM454 677h1v1h-1zM455 676h2v1h-2zM457 675h2v1h-2zM459 674h1v1h-1zM460 673h2v1h-2zM462 672h1v1h-1zM463 671h2v1h-2zM465 670h2v1h-2zM467 669h1v1h-1zM468 668h2v1h-2zM470 667h2v1h-2zM472 666h1v1h-1zM473 665h2v1h-2zM475 664h2v1h-2zM477 663h1v1h-1zM478 662h2v1h-2zM480 661h2v1h-2zM482 660h1v1h-1zM483 659h2v1h-2zM485 658h2v1h-2zM487 657h1v1h-1zM488 656h2v1h-2zM490 655h2v1h-2zM492 654h1v1h-1zM493 653h2v1h-2zM495 652h2v1h-2zM497 651h1v1h-1zM498 650h2v1h-2zM500 649h1v1h-1zM501 648h2v1h-2zM503 647h2v1h-2zM505 646h1v1h-1zM506 645h2v1h-2zM508 644h2v1h-2zM510 643h1v1h-1zM511 642h2v1h-2zM513 641h2v1h-2zM515 640h1v1h-1zM516 639h2v1h-2zM518 638h2v1h-2zM520 637h1v1h-1zM521 636h2v1h-2zM523 635h2v1h-2zM525 634h1v1h-1zM526 633h2v1h-2zM528 632h2v1h-2zM530 631h1v1h-1zM531 630h2v1h-2zM533 629h2v1h-2zM535 628h1v1h-1zM536 627h2v1h-2zM538 626h1v1h-1zM539 625h2v1h-2zM541 624h2v1h-2zM543 623h1v1h-1zM544 622h2v1h-2zM546 621h2v1h-2zM548 620h1v1h-1zM549 619h2v1h-2zM551 618h2v1h-2zM553 617h1v1h-1zM554 616h2v1h-2zM556 615h2v1h-2zM558 614h1v1h-1zM559 613h2v1h-2zM561 612h2v1h-2zM563 611h1v1h-1zM564 610h2v1h-2zM566 609h2v1h-2zM568 608h1v1h-1zM569 607h2v1h-2zM571 606h2v1h-2zM573 605h1v1h-1zM574 604h2v1h-2zM576 603h1v1h-1zM577 602h2v1h-2zM579 601h2v1h-2zM581 600h1v1h-1zM582 599h2v1h-2zM584 598h2v1h-2zM586 597h1v1h-1zM587 596h2v1h-2zM589 595h2v1h-2zM591 594h1v1h-1zM592 593h2v1h-2zM594 592h2v1h-2zM596 591h1v1h-1zM597 590h2v1h-2zM599 589h2v1h-2zM601 588h1v1h-1zM602 587h2v1h-2zM604 586h2v1h-2zM606 585h1v1h-1zM607 584h2v1h-2zM609 583h1v1h-1zM610 582h2v1h-2zM612 581h2v1h-2zM614 580h1v1h-1zM615 579h2v1h-2zM617 578h2v1h-2zM619 577h1v1h-1zM620 576h2v1h-2zM622 575h2v1h-2zM624 574h1v1h-1zM625 573h2v1h-2zM627 572h2v1h-2zM629 571h1v1h-1zM630 570h2v1h-2zM632 569h2v1h-2zM634 568h1v1h-1zM635 567h2v1h-2zM637 566h2v1h-2zM639 565h1v1h-1zM640 564h2v1h-2zM642 563h2v1h-2zM644 562h1v1h-1zM645 561h2v1h-2zM647 560h1v1h-1zM648 559h2v1h-2zM650 558h2v1h-2zM652 557h1v1h-1zM653 556h2v1h-2zM655 555h2v1h-2zM657 554h1v1h-1zM658 553h2v1h-2zM660 552h2v1h-2zM662 551h1v1h-1zM663 550h2v1h-2zM665 549h2v1h-2zM667 548h1v1h-1zM668 547h2v1h-2zM670 546h2v1h-2zM672 545h1v1h-1zM673 544h2v1h-2zM675 543h2v1h-2zM677 542h1v1h-1zM678 541h2v1h-2zM680 540h2v1h-2zM682 539h1v1h-1zM683 538h2v1h-2zM685 537h1v1h-1zM686 536h2v1h-2zM688 535h2v1h-2zM690 534h1v1h-1zM691 533h2v1h-2zM693 532h2v1h-2zM695 531h1v1h-1zM696 530h2v1h-2zM698 529h2v1h-2zM700 528h1v1h-1zM701 527h2v1h-2zM703 526h2v1h-2zM705 525h1v1h-1zM706 524h2v1h-2zM708 523h2v1h-2zM710 522h1v1h-1zM711 521h2v1h-2zM713 520h2v1h-2zM715 519h1v1h-1zM716 518h2v1h-2zM718 517h2v1h-2zM720 516h1v1h-1zM721 515h2v1h-2zM723 514h1v1h-1zM724 513h2v1h-2zM726 512h2v1h-2zM728 511h1v1h-1zM729 510h2v1h-2zM731 509h2v1h-2zM733 508h1v1h-1zM734 507h2v1h-2zM736 506h2v1h-2zM738 505h1v1h-1zM739 504h2v1h-2zM741 503h2v1h-2zM743 502h1v1h-1zM744 501h2v1h-2zM746 500h2v1h-2zM748 499h1v1h-1zM749 498h2v1h-2zM751 497h2v1h-2zM753 496h1v1h-1zM754 495h2v1h-2zM756 494h2v1h-2zM758 493h1v1h-1zM759 492h2v1h-2zM761 491h1v1h-1zM762 490h2v1h-2zM764 489h2v1h-2zM766 488h1v1h-1zM767 487h2v1h-2zM769 486h2v1h-2zM771 485h1v1h-1zM772 484h2v1h-2zM774 483h2v1h-2zM776 482h1v1h-1zM777 481h2v1h-2zM779 480h2v1h-2zM781 479h1v1h-1zM782 478h2v1h-2zM784 477h2v1h-2zM786 476h1v1h-1zM787 475h2v1h-2zM789 474h2v1h-2zM791 473h1v1h-1zM792 472h2v1h-2zM794 471h2v1h-2zM796 470h1v1h-1zM797 469h2v1h-2zM799 468h1v1h-1zM800 467h2v1h-2zM802 466h2v1h-2zM804 465h1v1h-1zM805 464h2v1h-2zM807 463h2v1h-2zM809 462h1v1h-1zM810 461h2v1h-2zM812 460h2v1h-2zM814 459h1v1h-1zM815 458h2v1h-2zM817 457h2v1h-2zM819 456h1v1h-1zM820 455h2v1h-2zM822 454h2v1h-2zM824 453h1v1h-1zM825 452h2v1h-2zM827 451h2v1h-2zM829 450h1v1h-1zM830 449h2v1h-2zM832 448h2v1h-2zM834 447h1v1h-1zM835 446h2v1h-2zM837 445h1v1h-1zM838 444h2v1h-2zM840 443h2v1h-2zM842 442h1v1h-1zM843 441h2v1h-2zM845 440h2v1h-2zM847 439h1v1h-1zM848 438h2v1h-2zM850 437h2v1h-2zM852 436h1v1h-1zM853 435h2v1h-2zM855 434h2v1h-2zM857 433h1v1h-1zM858 432h2v1h-2zM860 431h2v1h-2zM862 430h1v1h-1zM863 429h2v1h-2zM865 428h2v1h-2zM867 427h1v1h-1zM868 426h2v1h-2zM870 425h1v1h-1zM871 424h2v1h-2zM873 423h2v1h-2zM875 422h1v1h-1zM876 421h2v1h-2zM878 420h2v1h-2zM880 419h1v1h-1zM881 418h2v1h-2zM883 417h2v1h-2zM885 416h1v1h-1zM886 415h2v1h-2zM888 414h2v1h-2zM890 413h1v1h-1zM891 412h2v1h-2zM893 411h2v1h-2zM895 410h1v1h-1zM896 409h2v1h-2zM898 408h2v1h-2zM900 407h1v1h-1zM901 406h2v1h-2zM903 405h2v1h-2zM905 404h1v1h-1zM906 403h2v1h-2zM908 402h1v1h-1zM909 401h2v1h-2zM911 400h2v1h-2zM913 399h1v1h-1zM914 398h2v1h-2zM916 397h2v1h-2zM918 396h1v1h-1zM919 395h2v1h-2zM921 394h2v1h-2zM923 393h1v1h-1zM924 392h2v1h-2zM926 391h2v1h-2zM928 390h1v1h-1zM929 389h2v1h-2zM931 388h2v1h-2zM933 387h1v1h-1zM934 386h2v1h-2zM936 385h2v1h-2zM938 384h1v1h-1zM939 383h2v1h-2zM941 382h2v1h-2zM943 381h1v1h-1zM944 380h2v1h-2zM946 379h1v1h-1zM947 378h2v1h-2zM949 377h2v1h-2zM951 376h1v1h-1zM952 375h2v1h-2zM954 374h2v1h-2zM956 373h1v1h-1zM957 372h2v1h-2zM959 371h2v1h-2zM961 370h1v1h-1zM962 369h2v1h-2zM964 368h2v1h-2zM966 367h1v1h-1zM967 366h2v1h-2zM969 365h2v1h-2zM971 364h1v1h-1zM972 363h2v1h-2zM974 362h2v1h-2zM976 361h1v1h-1zM977 360h2v1h-2zM979 359h2v1h-2zM981 358h1v1h-1zM982 357h2v1h-2zM984 356h1v1h-1zM985 355h2v1h-2zM987 354h2v1h-2zM989 353h1v1h-1zM990 352h2v1h-2zM992 351h2v1h-2zM994 350h1v1h-1zM995 349h2v1h-2zM997 348h2v1h-2zM999 347h1v1h-1zM1000 346h2v1h-2zM1002 345h2v1h-2zM1004 344h1v1h-1zM1005 343h2v1h-2zM1007 342h2v1h-2zM1009 341h1v1h-1zM1010 340h2v1h-2zM1012 339h2v1h-2zM1014 338h1v1h-1zM1015 337h2v1h-2zM1017 336h2v1h-2zM1019 335h1v1h-1zM1020 334h2v1h-2zM1022 333h1v1h-1zM1023 332h2v1h-2zM1025 331h2v1h-2zM1027 330h1v1h-1zM1028 329h2v1h-2zM1030 328h2v1h-2zM1032 327h1v1h-1zM1033 326h2v1h-2zM1035 325h2v1h-2zM1037 324h1v1h-1zM1038 323h2v1h-2zM1040 322h2v1h-2zM1042 321h1v1h-1zM1043 320h2v1h-2zM1045 319h2v1h-2zM1047 318h1v1h-1zM1048 317h2v1h-2zM1050 316h2v1h-2zM1052 315h1v1h-1zM1053 314h2v1h-2zM1055 313h2v1h-2zM1057 312h1v1h-1zM1058 311h2v1h-2zM1060 310h1v1h-1zM1061 309h2v1h-2zM1063 308h2v1h-2zM1065 307h1v1h-1zM1066 306h2v1h-2zM1068 305h2v1h-2zM1070 304h1v1h-1zM1071 303h2v1h-2zM1073 302h2v1h-2zM1075 301h1v1h-1zM1076 300h2v1h-2zM1078 299h2v1h-2zM1080 298h1v1h-1zM1081 297h2v1h-2zM1083 296h2v1h-2zM1085 295h1v1h-1zM1086 294h2v1h-2zM1088 293h2v1h-2zM1090 292h1v1h-1zM1091 291h2v1h-2zM1093 290h1v1h-1zM1094 289h2v1h-2zM1096 288h2v1h-2zM1098 287h1v1h-1zM1099 286h2v1h-2zM1101 285h2v1h-2zM1103 284h1v1h-1zM1104 283h2v1h-2zM1106 282h2v1h-2zM1108 281h1v1h-1zM1109 280h2v1h-2zM1111 279h2v1h-2zM1113 278h1v1h-1zM1114 277h2v1h-2zM1116 276h2v1h-2zM1118 275h1v1h-1zM1119 274h2v1h-2zM1121 273h2v1h-2zM1123 272h1v1h-1zM1124 271h2v1h-2zM1126 270h2v1h-2zM1128 269h1v1h-1zM1129 268h2v1h-2zM1131 267h1v1h-1zM1132 266h2v1h-2zM1134 265h2v1h-2zM1136 264h1v1h-1zM1137 263h2v1h-2zM1139 262h2v1h-2zM1141 261h1v1h-1zM1142 260h2v1h-2zM1144 259h2v1h-2zM1146 258h1v1h-1zM1147 257h2v1h-2zM1149 256h2v1h-2zM1151 255h1v1h-1zM1152 254h2v1h-2zM1154 253h2v1h-2zM1156 252h1v1h-1zM1157 251h2v1h-2zM1159 250h2v1h-2zM1161 249h1v1h-1zM1162 248h2v1h-2zM1164 247h2v1h-2zM1166 246h1v1h-1zM1167 245h2v1h-2z"/>
<g stroke="#0000FF" fill="none">
<line x1="987.8" y1="354" x2="1169.8" y2="90" stroke-width="2.2" shape-rendering="crispEdges"/>
</g>
<g shape-rendering="crispEdges">
<rect x="3" y="20" width="1166" height="2" fill="#008000"/>
<rect x="3" y="45" width="1166" height="2" fill="#008000"/>
<rect x="3" y="112" width="1166" height="1" fill="#000080"/>
<rect x="3" y="153" width="1166" height="2" fill="#FF0000"/>
<rect x="3" y="195" width="1166" height="2" fill="#FF0000"/>
<rect x="3" y="247" width="1166" height="2" fill="#FF0000"/>
</g>
</g>
<g clip-path="url(#cd)">
<g fill="#000" shape-rendering="crispEdges"><rect x="0" y="964" width="7" height="33"/><rect x="8" y="976" width="7" height="21"/><rect x="16" y="979" width="7" height="18"/><rect x="24" y="980" width="7" height="17"/><rect x="32" y="973" width="7" height="24"/><rect x="40" y="968" width="7" height="29"/><rect x="48" y="967" width="7" height="30"/><rect x="56" y="969" width="7" height="28"/><rect x="64" y="963" width="7" height="34"/><rect x="72" y="955" width="7" height="42"/><rect x="80" y="943" width="7" height="54"/><rect x="88" y="935" width="7" height="62"/><rect x="96" y="929" width="7" height="68"/><rect x="104" y="923" width="7" height="74"/><rect x="112" y="922" width="7" height="75"/><rect x="120" y="924" width="7" height="73"/><rect x="128" y="932" width="7" height="65"/><rect x="136" y="939" width="7" height="58"/><rect x="144" y="938" width="7" height="59"/><rect x="152" y="939" width="7" height="58"/><rect x="160" y="933" width="7" height="64"/><rect x="168" y="932" width="7" height="65"/><rect x="176" y="931" width="7" height="66"/><rect x="184" y="936" width="7" height="61"/><rect x="192" y="938" width="7" height="59"/><rect x="200" y="962" width="7" height="35"/><rect x="208" y="999" width="7" height="7"/><rect x="216" y="999" width="7" height="35"/><rect x="224" y="999" width="7" height="60"/><rect x="232" y="999" width="7" height="66"/><rect x="240" y="999" width="7" height="68"/><rect x="248" y="999" width="7" height="58"/><rect x="256" y="999" width="7" height="48"/><rect x="264" y="999" width="7" height="40"/><rect x="272" y="999" width="7" height="29"/><rect x="280" y="999" width="7" height="22"/><rect x="288" y="999" width="7" height="15"/><rect x="296" y="999" width="7" height="11"/><rect x="304" y="995" width="7" height="2"/><rect x="312" y="984" width="7" height="13"/><rect x="320" y="980" width="7" height="17"/><rect x="328" y="977" width="7" height="20"/><rect x="336" y="977" width="7" height="20"/><rect x="344" y="981" width="7" height="16"/><rect x="352" y="986" width="7" height="11"/><rect x="360" y="994" width="7" height="3"/><rect x="368" y="996" width="7" height="1"/><rect x="376" y="989" width="7" height="8"/><rect x="384" y="992" width="7" height="5"/><rect x="392" y="995" width="7" height="2"/><rect x="400" y="994" width="7" height="3"/><rect x="408" y="995" width="7" height="2"/><rect x="416" y="994" width="7" height="3"/><rect x="424" y="996" width="7" height="1"/><rect x="432" y="996" width="7" height="1"/><rect x="440" y="999" width="7" height="3"/><rect x="448" y="999" width="7" height="5"/><rect x="456" y="996" width="7" height="1"/><rect x="464" y="989" width="7" height="8"/><rect x="472" y="986" width="7" height="11"/><rect x="480" y="979" width="7" height="18"/><rect x="488" y="974" width="7" height="23"/><rect x="496" y="973" width="7" height="24"/><rect x="504" y="976" width="7" height="21"/><rect x="512" y="974" width="7" height="23"/><rect x="520" y="977" width="7" height="20"/><rect x="528" y="960" width="7" height="37"/><rect x="536" y="951" width="7" height="46"/><rect x="544" y="944" width="7" height="53"/><rect x="552" y="927" width="7" height="70"/><rect x="560" y="911" width="7" height="86"/><rect x="568" y="891" width="7" height="106"/><rect x="576" y="879" width="7" height="118"/><rect x="584" y="874" width="7" height="123"/><rect x="592" y="871" width="7" height="126"/><rect x="600" y="870" width="7" height="127"/><rect x="608" y="871" width="7" height="126"/><rect x="616" y="864" width="7" height="133"/><rect x="624" y="865" width="7" height="132"/><rect x="632" y="871" width="7" height="126"/><rect x="640" y="881" width="7" height="116"/><rect x="648" y="889" width="7" height="108"/><rect x="656" y="898" width="7" height="99"/><rect x="664" y="903" width="7" height="94"/><rect x="672" y="904" width="7" height="93"/><rect x="680" y="912" width="7" height="85"/><rect x="688" y="919" width="7" height="78"/><rect x="696" y="925" width="7" height="72"/><rect x="704" y="926" width="7" height="71"/><rect x="712" y="924" width="7" height="73"/><rect x="720" y="923" width="7" height="74"/><rect x="728" y="925" width="7" height="72"/><rect x="736" y="927" width="7" height="70"/><rect x="744" y="933" width="7" height="64"/><rect x="752" y="933" width="7" height="64"/><rect x="760" y="918" width="7" height="79"/><rect x="768" y="910" width="7" height="87"/><rect x="776" y="910" width="7" height="87"/><rect x="784" y="908" width="7" height="89"/><rect x="792" y="905" width="7" height="92"/><rect x="800" y="904" width="7" height="93"/><rect x="808" y="896" width="7" height="101"/><rect x="816" y="887" width="7" height="110"/><rect x="824" y="882" width="7" height="115"/><rect x="832" y="881" width="7" height="116"/><rect x="840" y="891" width="7" height="106"/><rect x="848" y="900" width="7" height="97"/><rect x="856" y="908" width="7" height="89"/><rect x="864" y="926" width="7" height="71"/><rect x="872" y="946" width="7" height="51"/><rect x="880" y="959" width="7" height="38"/><rect x="888" y="965" width="7" height="32"/><rect x="896" y="967" width="7" height="30"/><rect x="904" y="968" width="7" height="29"/><rect x="912" y="964" width="7" height="33"/><rect x="920" y="961" width="7" height="36"/><rect x="928" y="966" width="7" height="31"/><rect x="936" y="968" width="7" height="29"/><rect x="944" y="966" width="7" height="31"/><rect x="952" y="966" width="7" height="31"/><rect x="960" y="967" width="7" height="30"/><rect x="968" y="970" width="7" height="27"/><rect x="976" y="978" width="7" height="19"/><rect x="984" y="979" width="7" height="18"/><rect x="992" y="978" width="7" height="19"/><rect x="1000" y="969" width="7" height="28"/><rect x="1008" y="966" width="7" height="31"/><rect x="1016" y="964" width="7" height="33"/><rect x="1024" y="962" width="7" height="35"/><rect x="1032" y="957" width="7" height="40"/><rect x="1040" y="946" width="7" height="51"/><rect x="1048" y="930" width="7" height="67"/><rect x="1056" y="914" width="7" height="83"/><rect x="1064" y="899" width="7" height="98"/><rect x="1072" y="895" width="7" height="102"/><rect x="1080" y="889" width="7" height="108"/><rect x="1088" y="882" width="7" height="115"/><rect x="1096" y="882" width="7" height="115"/><rect x="1104" y="881" width="7" height="116"/><rect x="1112" y="877" width="7" height="120"/><rect x="1120" y="870" width="7" height="127"/><rect x="1128" y="859" width="7" height="138"/><rect x="1136" y="854" width="7" height="143"/><rect x="1144" y="861" width="7" height="136"/><rect x="3" y="997" width="1166" height="2"/></g>
<polyline points="2.0,937.2 10.0,941.2 20.0,947.6 30.0,955.6 40.0,961.2 50.0,966.0 60.0,970.0 67.0,971.5 75.0,970.4 83.0,966.0 91.0,960.4 99.0,956.0 105.0,952.3 115.0,945.6 125.0,939.3 135.0,935.0 145.0,932.1 155.0,930.9 165.0,930.9 175.0,931.7 185.0,934.0 195.0,935.5 205.0,939.8 215.0,950.6 225.0,966.4 235.0,982.9 242.0,996.2 250.0,1013.8 260.0,1028.2 270.0,1039.2 275.0,1044.1 283.0,1045.3 290.0,1043.6 300.0,1037.0 310.0,1027.1 320.0,1015.5 325.0,1010.0 340.0,996.4 355.0,989.6 370.0,985.4 385.0,985.6 400.0,987.8 415.0,991.4 430.0,993.8 445.0,995.0 455.0,996.2 465.0,996.0 475.0,994.8 485.0,992.3 495.0,989.8 505.0,986.8 515.0,983.5 525.0,980.2 535.0,974.7 545.0,969.2 555.0,962.5 565.0,953.2 575.0,941.3 585.0,927.8 595.0,913.5 605.0,901.3 615.0,890.3 625.0,879.8 635.0,874.0 645.0,872.4 655.0,874.3 665.0,877.6 675.0,882.8 685.0,887.8 695.0,897.5 705.0,906.3 715.0,912.4 725.0,916.2 735.0,918.7 745.0,923.9 755.0,926.7 765.0,926.5 775.0,923.4 785.0,921.2 795.0,919.0 805.0,916.8 815.0,912.4 825.0,905.2 835.0,899.1 845.0,896.4 855.0,895.8 865.0,896.7 875.0,902.4 885.0,911.2 895.0,921.9 905.0,934.5 915.0,945.1 925.0,953.7 935.0,960.4 945.0,964.7 955.0,965.2 965.0,966.2 975.0,966.2 985.0,968.6 995.0,971.0 1005.0,971.1 1015.0,971.1 1025.0,971.1 1035.0,969.2 1045.0,966.3 1055.0,959.5 1065.0,949.8 1075.0,940.1 1085.0,928.7 1095.0,916.8 1100.0,909.6 1105.0,905.0 1110.0,899.7 1115.0,895.5 1120.0,890.7 1125.0,887.0 1130.0,881.8 1135.0,878.9 1140.0,875.7 1145.0,874.1 1148.0,873.1" fill="none" stroke="#FF0000" stroke-width="3" stroke-linejoin="round" shape-rendering="crispEdges"/>
</g>
<text x="7.00" y="864.92" font-size="20" fill="#000" textLength="250.00" lengthAdjust="spacingAndGlyphs">MACD(12,26,9) 1.0371 0.9502</text>
<g clip-path="url(#cr)">
<g stroke="#C0C0C0" stroke-width="1" stroke-dasharray="3 3" shape-rendering="crispEdges">
<line x1="4" y1="1141.5" x2="1169" y2="1141.5"/>
<line x1="4" y1="1221.5" x2="1169" y2="1221.5"/>
</g>
<polyline points="2,1192.9 3.0,1192.9 11.0,1194.6 19.0,1181.5 27.0,1175.2 35.0,1162.7 43.0,1162.7 51.0,1167.2 59.0,1175.8 67.0,1161.2 75.0,1156.4 83.0,1147.9 91.0,1148.7 99.0,1148.7 107.0,1146.7 115.0,1151.3 123.0,1158.7 131.0,1173.6 139.0,1173.6 147.0,1161.0 155.0,1161.7 163.0,1149.7 171.0,1157.8 179.0,1157.8 187.0,1169.0 195.0,1165.9 203.0,1202.7 211.0,1224.8 219.0,1217.1 227.0,1217.8 235.0,1199.1 243.0,1196.5 251.0,1182.3 259.0,1181.0 267.0,1181.0 275.0,1175.9 283.0,1176.9 291.0,1176.9 299.0,1179.0 307.0,1163.4 315.0,1162.9 323.0,1172.0 331.0,1172.0 339.0,1175.3 347.0,1182.6 355.0,1184.9 363.0,1192.0 371.0,1182.6 379.0,1170.7 387.0,1183.9 395.0,1183.9 403.0,1179.7 411.0,1180.7 419.0,1175.9 427.0,1188.0 435.0,1180.7 443.0,1187.0 451.0,1185.7 459.0,1172.4 467.0,1167.5 475.0,1174.1 483.0,1166.2 491.0,1166.0 499.0,1171.5 507.0,1178.0 515.0,1171.8 523.0,1178.8 531.0,1151.8 539.0,1156.7 547.0,1156.7 555.0,1143.2 563.0,1140.4 571.0,1133.8 579.0,1138.5 587.0,1144.7 595.0,1144.7 603.0,1143.7 611.0,1143.7 619.0,1135.4 627.0,1145.5 635.0,1157.2 643.0,1162.6 651.0,1161.6 659.0,1165.0 667.0,1159.1 675.0,1154.1 683.0,1168.9 691.0,1167.8 699.0,1168.9 707.0,1160.3 715.0,1155.1 723.0,1154.9 731.0,1158.8 739.0,1158.8 747.0,1169.2 755.0,1159.5 763.0,1139.0 771.0,1146.3 779.0,1156.0 787.0,1152.8 795.0,1150.1 803.0,1149.9 811.0,1140.4 819.0,1135.6 827.0,1135.6 835.0,1143.2 843.0,1165.7 851.0,1165.7 859.0,1165.7 867.0,1187.9 875.0,1196.2 883.0,1189.4 891.0,1181.4 899.0,1173.3 907.0,1173.0 915.0,1164.9 923.0,1163.7 931.0,1180.7 939.0,1175.9 947.0,1164.7 955.0,1174.8 963.0,1174.8 971.0,1174.8 979.0,1187.8 987.0,1178.7 995.0,1173.3 1003.0,1160.5 1011.0,1167.8 1019.0,1167.8 1027.0,1166.8 1035.0,1159.3 1043.0,1151.5 1051.0,1140.4 1059.0,1136.4 1067.0,1133.8 1075.0,1147.0 1083.0,1143.5 1091.0,1140.1 1099.0,1151.0 1107.0,1147.3 1115.0,1142.9 1123.0,1136.4 1131.0,1131.5 1139.0,1133.5 1147.0,1157.0" fill="none" stroke="#1E90FF" stroke-width="2" stroke-linejoin="round" shape-rendering="crispEdges"/>
</g>
<text x="6.50" y="1101.54" font-size="20" fill="#000" textLength="136.50" lengthAdjust="spacingAndGlyphs">RSI(14) 62.1720</text>
<g fill="none" stroke="#000" stroke-width="1" shape-rendering="crispEdges">
<rect x="2.5" y="2.5" width="1167" height="838"/>
<rect x="2.5" y="842.5" width="1167" height="235"/>
<rect x="2.5" y="1079.5" width="1167" height="203"/>
</g>
<g shape-rendering="crispEdges"><rect x="1169" y="20" width="1" height="2" fill="#008000"/><rect x="1169" y="45" width="1" height="2" fill="#008000"/><rect x="1169" y="112" width="1" height="1" fill="#000080"/><rect x="1169" y="153" width="1" height="2" fill="#FF0000"/><rect x="1169" y="195" width="1" height="2" fill="#FF0000"/><rect x="1169" y="247" width="1" height="2" fill="#FF0000"/></g>
<g fill="#000" shape-rendering="crispEdges">
<rect x="1170" y="25" width="3" height="1"/>
<rect x="1170" y="90" width="3" height="1"/>
<rect x="1170" y="155" width="3" height="1"/>
<rect x="1170" y="220" width="3" height="1"/>
<rect x="1170" y="285" width="3" height="1"/>
<rect x="1170" y="350" width="3" height="1"/>
<rect x="1170" y="415" width="3" height="1"/>
<rect x="1170" y="480" width="3" height="1"/>
<rect x="1170" y="545" width="3" height="1"/>
<rect x="1170" y="610" width="3" height="1"/>
<rect x="1170" y="675" width="3" height="1"/>
<rect x="1170" y="740" width="3" height="1"/>
<rect x="1170" y="805" width="3" height="1"/>
<rect x="1170" y="844" width="3" height="1"/>
<rect x="1170" y="1076" width="3" height="1"/>
<rect x="1170" y="1081" width="3" height="1"/>
<rect x="3" y="1283" width="1" height="3"/>
<rect x="131" y="1283" width="1" height="3"/>
<rect x="259" y="1283" width="1" height="3"/>
<rect x="387" y="1283" width="1" height="3"/>
<rect x="515" y="1283" width="1" height="3"/>
<rect x="643" y="1283" width="1" height="3"/>
<rect x="771" y="1283" width="1" height="3"/>
<rect x="899" y="1283" width="1" height="3"/>
<rect x="1027" y="1283" width="1" height="3"/>
</g>
<text x="1177.50" y="97.92" font-size="20" fill="#000" textLength="56.50" lengthAdjust="spacingAndGlyphs">42.035</text>
<text x="1177.00" y="227.54" font-size="20" fill="#000" textLength="57.50" lengthAdjust="spacingAndGlyphs">39.530</text>
<text x="1177.00" y="292.54" font-size="20" fill="#000" textLength="57.50" lengthAdjust="spacingAndGlyphs">38.285</text>
<text x="1177.00" y="357.54" font-size="20" fill="#000" textLength="57.50" lengthAdjust="spacingAndGlyphs">37.025</text>
<text x="1177.00" y="422.54" font-size="20" fill="#000" textLength="57.50" lengthAdjust="spacingAndGlyphs">35.780</text>
<text x="1177.00" y="487.54" font-size="20" fill="#000" textLength="57.50" lengthAdjust="spacingAndGlyphs">34.520</text>
<text x="1177.00" y="552.54" font-size="20" fill="#000" textLength="57.50" lengthAdjust="spacingAndGlyphs">33.260</text>
<text x="1177.00" y="617.54" font-size="20" fill="#000" textLength="57.50" lengthAdjust="spacingAndGlyphs">32.015</text>
<text x="1177.00" y="682.54" font-size="20" fill="#000" textLength="57.50" lengthAdjust="spacingAndGlyphs">30.755</text>
<text x="1177.50" y="747.96" font-size="20" fill="#000" textLength="57.00" lengthAdjust="spacingAndGlyphs">29.510</text>
<text x="1177.50" y="812.96" font-size="20" fill="#000" textLength="57.00" lengthAdjust="spacingAndGlyphs">28.250</text>
<rect x="1171" y="15" width="70" height="23" fill="#008000" shape-rendering="crispEdges"/>
<text x="1177.50" y="34.00" font-size="20" fill="#fff" textLength="57.00" lengthAdjust="spacingAndGlyphs">43.380</text>
<rect x="1171" y="40" width="70" height="23" fill="#008000" shape-rendering="crispEdges"/>
<text x="1177.50" y="59.00" font-size="20" fill="#fff" textLength="57.00" lengthAdjust="spacingAndGlyphs">42.900</text>
<rect x="1171" y="101" width="70" height="23" fill="#000000" shape-rendering="crispEdges"/>
<text x="1177.50" y="119.04" font-size="20" fill="#fff" textLength="57.00" lengthAdjust="spacingAndGlyphs">41.618</text>
<rect x="1171" y="148" width="70" height="23" fill="#FF0000" shape-rendering="crispEdges"/>
<text x="1177.50" y="166.58" font-size="20" fill="#fff" textLength="56.50" lengthAdjust="spacingAndGlyphs">40.800</text>
<rect x="1171" y="190" width="70" height="23" fill="#FF0000" shape-rendering="crispEdges"/>
<text x="1177.50" y="208.58" font-size="20" fill="#fff" textLength="56.50" lengthAdjust="spacingAndGlyphs">40.000</text>
<rect x="1171" y="242" width="70" height="23" fill="#FF0000" shape-rendering="crispEdges"/>
<text x="1177.50" y="260.58" font-size="20" fill="#fff" textLength="56.50" lengthAdjust="spacingAndGlyphs">39.000</text>
<text x="1173.00" y="863.00" font-size="20" fill="#000" textLength="56.00" lengthAdjust="spacingAndGlyphs">1.1722</text>
<text x="1172.00" y="1005.54" font-size="20" fill="#000" textLength="37.00" lengthAdjust="spacingAndGlyphs">0.00</text>
<rect x="1171" y="987" width="12" height="23" fill="#000" shape-rendering="crispEdges"/>
<clipPath id="c0"><rect x="1171" y="987" width="12" height="23"/></clipPath>
<g clip-path="url(#c0)"><text x="1172.00" y="1005.54" font-size="20" fill="#fff" textLength="37.00" lengthAdjust="spacingAndGlyphs">0.00</text></g>
<text x="1172.50" y="1071.92" font-size="20" fill="#000" textLength="53.50" lengthAdjust="spacingAndGlyphs">-0.596</text>
<text x="1173.00" y="1099.92" font-size="20" fill="#000" textLength="29.50" lengthAdjust="spacingAndGlyphs">100</text>
<text x="1172.50" y="1148.92" font-size="20" fill="#000" textLength="19.00" lengthAdjust="spacingAndGlyphs">70</text>
<text x="1172.50" y="1228.50" font-size="20" fill="#000" textLength="19.50" lengthAdjust="spacingAndGlyphs">30</text>
<text x="1173.00" y="1276.50" font-size="20" fill="#000" textLength="9.50" lengthAdjust="spacingAndGlyphs">0</text>
<text x="1.50" y="1304.96" font-size="20" fill="#000" textLength="104.00" lengthAdjust="spacingAndGlyphs">27 Feb 2025</text>
<text x="131.00" y="1304.96" font-size="20" fill="#000" textLength="102.50" lengthAdjust="spacingAndGlyphs">21 Mar 2025</text>
<text x="257.50" y="1304.96" font-size="20" fill="#000" textLength="101.50" lengthAdjust="spacingAndGlyphs">14 Apr 2025</text>
<text x="386.00" y="1304.96" font-size="20" fill="#000" textLength="95.50" lengthAdjust="spacingAndGlyphs">7 May 2025</text>
<text x="515.00" y="1304.96" font-size="20" fill="#000" textLength="104.00" lengthAdjust="spacingAndGlyphs">29 May 2025</text>
<text x="641.50" y="1304.96" font-size="20" fill="#000" textLength="102.50" lengthAdjust="spacingAndGlyphs">20 Jun 2025</text>
<text x="769.50" y="1304.96" font-size="20" fill="#000" textLength="95.50" lengthAdjust="spacingAndGlyphs">14 Jul 2025</text>
<text x="897.50" y="1304.96" font-size="20" fill="#000" textLength="95.50" lengthAdjust="spacingAndGlyphs">5 Aug 2025</text>
<text x="1026.00" y="1304.96" font-size="20" fill="#000" textLength="105.00" lengthAdjust="spacingAndGlyphs">27 Aug 2025</text>
</svg></body></html>
